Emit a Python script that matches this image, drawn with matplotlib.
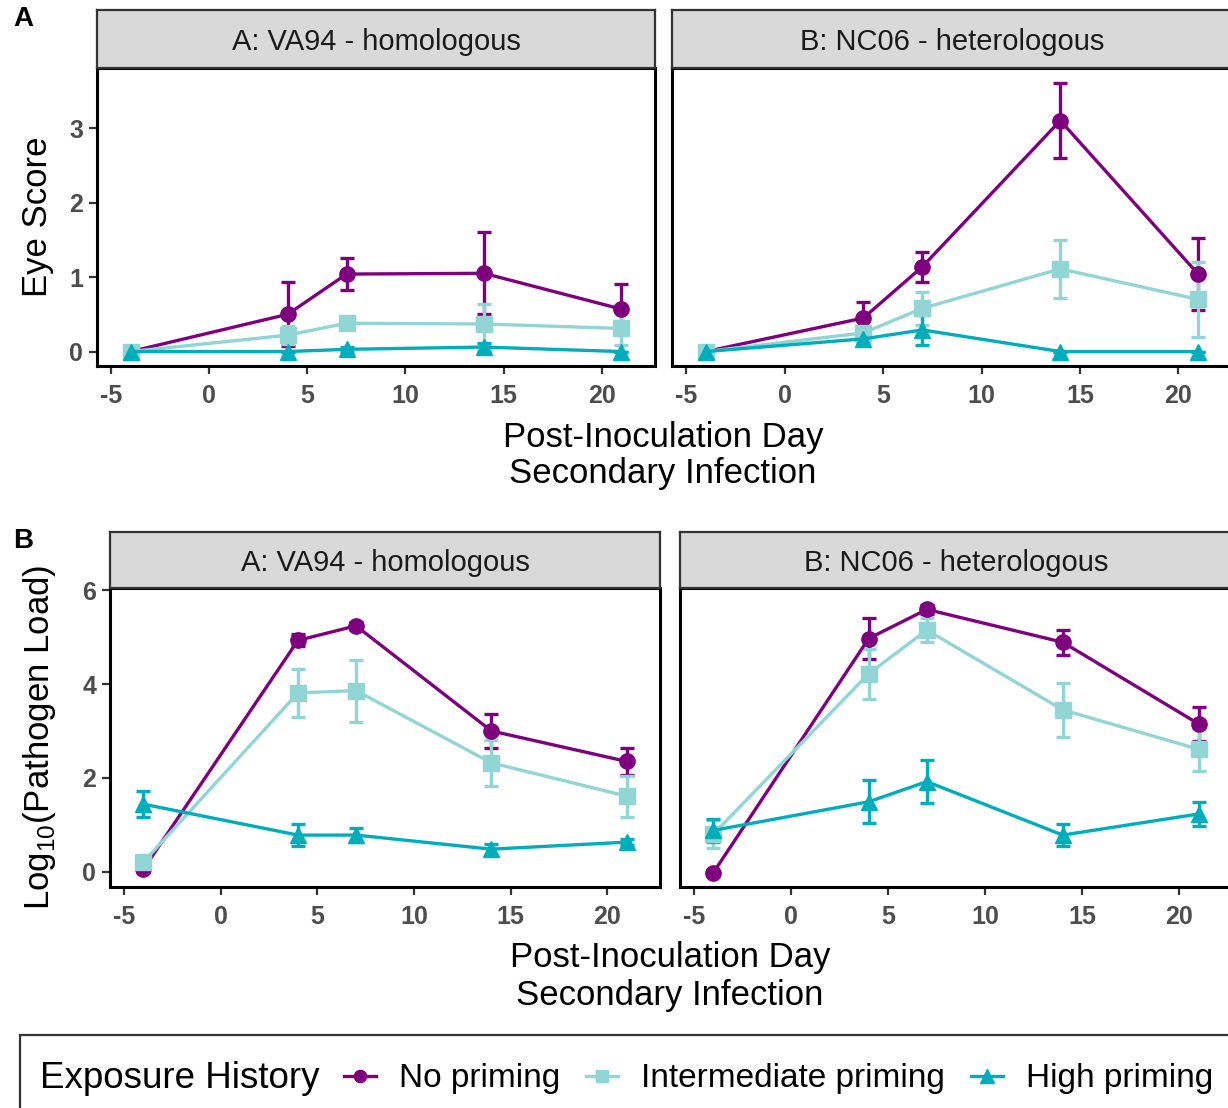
import matplotlib
matplotlib.use("Agg")
import matplotlib.pyplot as plt
from matplotlib.lines import Line2D
from matplotlib.patches import Rectangle

plt.rcParams['font.family'] = ['Liberation Sans', 'DejaVu Sans']
plt.rcParams['axes.unicode_minus'] = False

# data (mean and +/- error)
days = [-4, 4, 7, 14, 21]
groups = ['No priming', 'Intermediate priming', 'High priming']
panels = ['A: VA94 - homologous', 'B: NC06 - heterologous']

eye_va94_none = [0, 0.50, 1.04, 1.05, 0.57]
eye_va94_none_err = [0, 0.43, 0.22, 0.55, 0.34]
eye_va94_inter = [0, 0.22, 0.38, 0.37, 0.31]
eye_va94_inter_err = [0, 0.12, 0.08, 0.27, 0.22]
eye_va94_high = [0, 0, 0.03, 0.06, 0]
eye_va94_high_err = [0, 0, 0.03, 0.05, 0]

eye_nc06_none = [0, 0.45, 1.14, 3.10, 1.04]
eye_nc06_none_err = [0, 0.22, 0.20, 0.50, 0.48]
eye_nc06_inter = [0, 0.25, 0.58, 1.11, 0.70]
eye_nc06_inter_err = [0, 0.08, 0.22, 0.39, 0.50]
eye_nc06_high = [0, 0.17, 0.29, 0, 0]
eye_nc06_high_err = [0, 0.06, 0.20, 0, 0]

load_va94_none = [0.05, 4.93, 5.24, 3.00, 2.35]
load_va94_none_err = [0.05, 0.13, 0.08, 0.36, 0.29]
load_va94_inter = [0.20, 3.81, 3.86, 2.32, 1.61]
load_va94_inter_err = [0.05, 0.52, 0.66, 0.49, 0.44]
load_va94_high = [1.44, 0.78, 0.78, 0.48, 0.63]
load_va94_high_err = [0.27, 0.24, 0.15, 0.12, 0.06]

load_nc06_none = [-0.02, 4.97, 5.59, 4.89, 3.15]
load_nc06_none_err = [0.03, 0.43, 0.10, 0.27, 0.36]
load_nc06_inter = [0.80, 4.22, 5.15, 3.45, 2.61]
load_nc06_inter_err = [0.30, 0.53, 0.25, 0.58, 0.46]
load_nc06_high = [0.88, 1.49, 1.92, 0.78, 1.23]
load_nc06_high_err = [0.24, 0.46, 0.45, 0.23, 0.25]

colors = ['#7F007F', '#91D5D4', '#00AEBB']
markers = ['o', 's', '^']
msizes = [11, 11, 12]

W, H = 1228, 1108
fig = plt.figure(figsize=(W / 100, H / 100), dpi=100)


def rect(x0, y0, x1, y1):
    return [x0 / W, 1 - y1 / H, (x1 - x0) / W, (y1 - y0) / H]


def draw_strip(x0, y0, x1, y1, label):
    s = fig.add_axes(rect(x0, y0, x1, y1))
    s.set_facecolor('#D9D9D9')
    s.set_xticks([])
    s.set_yticks([])
    for sp in s.spines.values():
        sp.set_color('#333333')
        sp.set_linewidth(1.6)
    s.text(0.5, 0.45, label, ha='center', va='center', fontsize=21,
           color='#1A1A1A', transform=s.transAxes)


def draw_panel(box, strip_box, label, series, ylim, yticks, show_y):
    ax = fig.add_axes(rect(*box))
    for vals, err, c, m, ms in zip(*series, colors, markers, msizes):
        ax.errorbar(days, vals, yerr=err, color=c, marker=m, ms=ms, lw=2.4,
                    elinewidth=2.4, capsize=4.8, capthick=2.4,
                    mec=c, mfc=c)
    ax.set_xlim(-5.72, 22.72)
    ax.set_ylim(*ylim)
    ax.set_xticks([-5, 0, 5, 10, 15, 20])
    ax.set_yticks(yticks)
    ax.tick_params(length=6, width=1.6, color='#333333', labelsize=18,
                   labelcolor='#4D4D4D')
    ax.tick_params(axis='x', pad=7)
    ax.tick_params(axis='y', pad=4)
    for t in ax.get_xticklabels() + ax.get_yticklabels():
        t.set_fontweight('bold')
    if not show_y:
        ax.tick_params(axis='y', left=False, labelleft=False)
    for sp in ax.spines.values():
        sp.set_color('black')
        sp.set_linewidth(2.2)
    draw_strip(*strip_box, label)
    return ax


eye_data = [
    ([eye_va94_none, eye_va94_inter, eye_va94_high],
     [eye_va94_none_err, eye_va94_inter_err, eye_va94_high_err]),
    ([eye_nc06_none, eye_nc06_inter, eye_nc06_high],
     [eye_nc06_none_err, eye_nc06_inter_err, eye_nc06_high_err]),
]
load_data = [
    ([load_va94_none, load_va94_inter, load_va94_high],
     [load_va94_none_err, load_va94_inter_err, load_va94_high_err]),
    ([load_nc06_none, load_nc06_inter, load_nc06_high],
     [load_nc06_none_err, load_nc06_inter_err, load_nc06_high_err]),
]

# row A: eye score
draw_panel((97, 67.7, 655, 365.7), (97, 9.5, 655, 67.7), panels[0],
           eye_data[0], (-0.19, 3.81), [0, 1, 2, 3], True)
draw_panel((672, 67.7, 1232, 365.7), (672, 9.5, 1232, 67.7), panels[1],
           eye_data[1], (-0.19, 3.81), [0, 1, 2, 3], False)

# row B: pathogen load
draw_panel((110, 588.3, 660, 886.7), (110, 531.7, 660, 588.3), panels[0],
           load_data[0], (-0.32, 6.04), [0, 2, 4, 6], True)
draw_panel((680, 588.3, 1232, 886.7), (680, 531.7, 1232, 588.3), panels[1],
           load_data[1], (-0.32, 6.04), [0, 2, 4, 6], False)

# panel letters
fig.text(13 / W, 1 - 19 / H, 'A', fontsize=20, fontweight='bold', va='center')
fig.text(13 / W, 1 - 541 / H, 'B', fontsize=20, fontweight='bold', va='center')

# axis titles
fig.text(37 / W, 1 - 216.7 / H, 'Eye Score', rotation=90, ha='center',
         va='center', fontsize=25)
fig.text(40 / W, 1 - 737 / H, r'Log$_{\mathregular{10}}$(Pathogen Load)',
         rotation=90, ha='center', va='center', fontsize=25)
for cx, y1, y2 in [(663, 437, 473), (670, 958, 995)]:
    fig.text(cx / W, 1 - y1 / H, 'Post-Inoculation Day', ha='center',
             va='center', fontsize=25)
    fig.text(cx / W, 1 - y2 / H, 'Secondary Infection', ha='center',
             va='center', fontsize=25)

# legend box along the bottom
fig.patches.append(Rectangle((20 / W, -0.05), 1.1, (1 + 0.05) - 1035 / H,
                             transform=fig.transFigure, fill=False,
                             edgecolor='#333333', linewidth=1.6))
fig.text(40 / W, 1 - 1079 / H, 'Exposure History', ha='left', va='center',
         fontsize=26.5)
handles = [Line2D([], [], color=c, marker=m, ms=ms * 0.8, lw=2.4)
           for c, m, ms in zip(colors, markers, msizes)]
fig.legend(handles, groups, loc='center left',
           bbox_to_anchor=(344 / W, 1 - 1079 / H), ncol=3, frameon=False,
           fontsize=24, handlelength=0.96, handletextpad=0.69,
           columnspacing=0.78, borderpad=0, borderaxespad=0)

fig.savefig('out.png', dpi=100)
